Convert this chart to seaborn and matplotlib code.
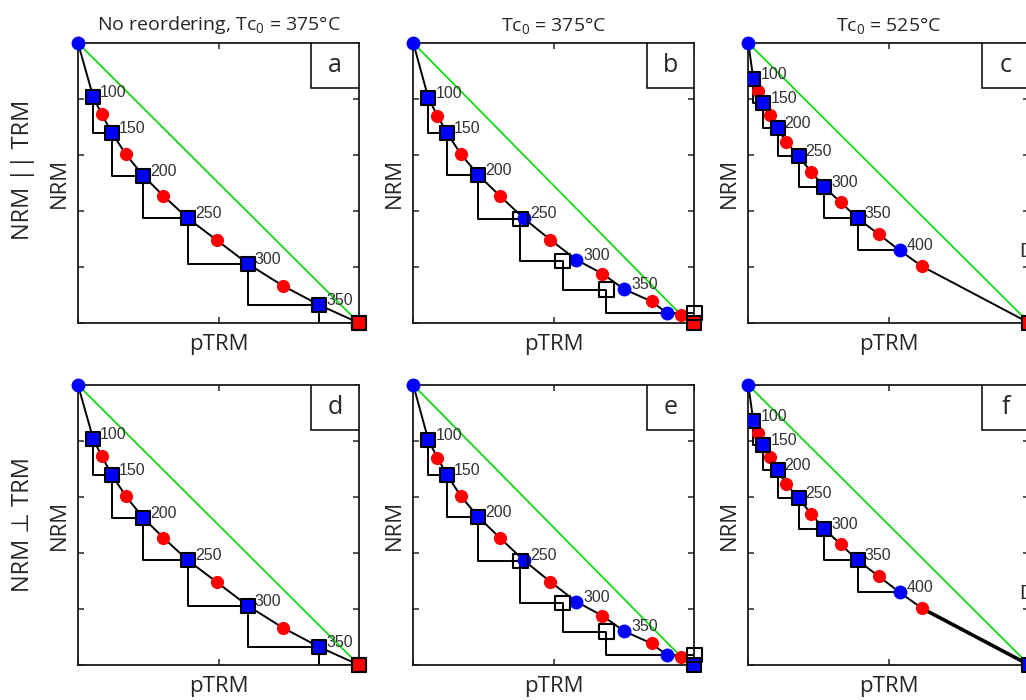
import numpy as np
import matplotlib
matplotlib.use("Agg")
import matplotlib.pyplot as plt
import seaborn as sns
from matplotlib.patches import Rectangle

# ---- data (axes run 0..1 in pTRM and NRM) ----
labels_375 = ["100", "150", "200", "250", "300", "350"]
labels_525 = ["100", "150", "200", "250", "300", "350", "400"]

# no reordering, Tc0 = 375 (panels a, d)
a_blue_x = [0.054, 0.122, 0.232, 0.391, 0.605, 0.859]
a_blue_y = [0.808, 0.677, 0.526, 0.374, 0.211, 0.064]
a_red_x = [0.084, 0.170, 0.304, 0.495, 0.729]
a_red_y = [0.746, 0.603, 0.454, 0.295, 0.133]
a_check_x = [0.054, 0.122, 0.232, 0.391, 0.605, 0.859, 1.0]
a_check_y = [0.808, 0.677, 0.526, 0.374, 0.211, 0.064, 0.0]
a_step_x = a_check_x
a_step_y = a_check_y
a_green_end = (1.0, 0.0)

# Tc0 = 375 (panels b, e)
b_blue_x = [0.054, 0.121, 0.232, 0.393, 0.580, 0.750, 0.902]
b_blue_y = [0.802, 0.677, 0.528, 0.374, 0.226, 0.121, 0.036]
b_red_x = [0.086, 0.170, 0.308, 0.488, 0.673, 0.848, 0.952]
b_red_y = [0.740, 0.602, 0.454, 0.297, 0.176, 0.077, 0.030]
b_check_x = [0.054, 0.121, 0.232, 0.381, 0.531, 0.687, 1.0]
b_check_y = [0.802, 0.677, 0.528, 0.372, 0.222, 0.119, 0.036]
b_step_x = b_check_x
b_step_y = b_check_y
b_green_end = (0.952, 0.030)

# Tc0 = 525 (panels c, f)
c_blue_x = [0.018, 0.054, 0.104, 0.179, 0.271, 0.389, 0.539]
c_blue_y = [0.871, 0.787, 0.695, 0.596, 0.485, 0.374, 0.259]
c_red_x = [0.036, 0.077, 0.135, 0.223, 0.329, 0.464, 0.619]
c_red_y = [0.829, 0.742, 0.647, 0.540, 0.431, 0.317, 0.202]
c_check_x = [0.018, 0.054, 0.104, 0.179, 0.271, 0.389]
c_check_y = [0.871, 0.787, 0.695, 0.596, 0.485, 0.374]
c_step_x = [0.018, 0.054, 0.104, 0.179, 0.271, 0.389, 0.539]
c_step_y = [0.871, 0.787, 0.695, 0.596, 0.485, 0.374, 0.259]
c_green_end = (1.0, 0.0)

titles = ["No reordering, Tc$_0$ = 375°C", "Tc$_0$ = 375°C", "Tc$_0$ = 525°C"]
letters = ["a", "b", "c", "d", "e", "f"]
end_colors = ["red", "red", "red", "red", "blue", "blue"]

sns.set_style("ticks")
plt.rcParams["font.family"] = ["Open Sans", "DejaVu Sans"]
plt.rcParams["mathtext.fontset"] = "custom"
plt.rcParams["mathtext.rm"] = "Open Sans"
plt.rcParams["mathtext.default"] = "regular"
plt.rcParams["xtick.direction"] = "in"
plt.rcParams["ytick.direction"] = "in"
plt.rcParams["axes.edgecolor"] = "#1a1a1a"
plt.rcParams["axes.linewidth"] = 1.3

BLUE = "#0000ff"
RED = "#ff0000"
GREEN = "#14d814"

fig = plt.figure(figsize=(10.26, 7.0), dpi=100)
lefts = [78 / 1026, 413.3 / 1026, 748.3 / 1026]
bottoms = [(700 - 323) / 700, (700 - 665) / 700]
w, h = 281 / 1026, 280 / 700

sets = [
    (a_blue_x, a_blue_y, a_red_x, a_red_y, a_check_x, a_check_y, a_step_x, a_step_y, a_green_end, labels_375),
    (b_blue_x, b_blue_y, b_red_x, b_red_y, b_check_x, b_check_y, b_step_x, b_step_y, b_green_end, labels_375),
    (c_blue_x, c_blue_y, c_red_x, c_red_y, c_check_x, c_check_y, c_step_x, c_step_y, c_green_end, labels_525),
]

for k in range(6):
    row, col = divmod(k, 3)
    bx, by, rx, ry, ckx, cky, sx, sy, gend, labs = sets[col]
    ax = fig.add_axes([lefts[col], bottoms[row], w, h])
    endc = BLUE if end_colors[k] == "blue" else RED

    # green reference line
    sns.lineplot(x=[0, gend[0]], y=[1, gend[1]], color=GREEN, lw=1.3, sort=False,
                 estimator=None, ax=ax, zorder=1)
    # pTRM check staircase
    sns.lineplot(x=sx, y=sy, color="black", lw=1.4, sort=False, estimator=None,
                 drawstyle="steps-pre", ax=ax, zorder=1.5)
    # main Arai path: origin, blue/red alternating, end
    mx, my = [0.0], [1.0]
    for i in range(len(bx)):
        mx.append(bx[i]); my.append(by[i])
        if i < len(rx):
            mx.append(rx[i]); my.append(ry[i])
    mx.append(1.0); my.append(0.0)
    sns.lineplot(x=mx, y=my, color="black", lw=1.4, sort=False, estimator=None,
                 ax=ax, zorder=2)
    if col == 2 and row == 1:
        sns.lineplot(x=mx[-2:], y=my[-2:], color="black", lw=2.6, sort=False,
                     estimator=None, ax=ax, zorder=2)

    sns.scatterplot(x=[0.0], y=[1.0], color=BLUE, s=100, linewidth=0, ax=ax,
                    zorder=3, clip_on=False)
    sns.scatterplot(x=bx, y=by, color=BLUE, s=100, linewidth=0, ax=ax, zorder=3)
    sns.scatterplot(x=rx, y=ry, color=RED, s=90, linewidth=0, ax=ax, zorder=3)

    # end point
    sns.scatterplot(x=[1.0], y=[0.0], marker="s", color=endc, s=105, edgecolor="black",
                    linewidth=1.5, ax=ax, zorder=4, clip_on=False)

    # check squares: filled blue where on top of a zero-field point
    fx, fy, ox, oy = [], [], [], []
    for x, y in zip(ckx, cky):
        d = np.min(np.hypot(np.array(bx) - x, np.array(by) - y))
        if d < 0.005:
            fx.append(x); fy.append(y)
        else:
            ox.append(x); oy.append(y)
    sns.scatterplot(x=fx, y=fy, marker="s", color=BLUE, s=105, edgecolor="black",
                    linewidth=1.5, ax=ax, zorder=4)
    if ox:
        ax.scatter(ox, oy, marker="s", s=110, facecolors="none", edgecolors="black",
                   linewidths=1.5, zorder=5, clip_on=False)

    for i, lab in enumerate(labs):
        ax.annotate(lab, (bx[i], by[i]), xytext=(5, 0), textcoords="offset points",
                    va="baseline", ha="left", fontsize=11.5, color="#333333",
                    family=["Liberation Sans"], zorder=6)

    # panel letter box
    ax.add_patch(Rectangle((0.83, 0.84), 0.17, 0.16, transform=ax.transAxes,
                           facecolor="white", edgecolor="black", lw=1.1, zorder=7))
    ax.text(0.915, 0.92, letters[k], transform=ax.transAxes, ha="center", va="center",
            fontsize=18, zorder=8)
    if col == 2:
        ax.text(0.963, 0.256, "D", transform=ax.transAxes, ha="left", va="center",
                fontsize=15, color="#333333", family=["Liberation Sans"], clip_on=False)

    ax.set_xlim(0, 1)
    ax.set_ylim(0, 1)
    ax.set_xticks([0, 0.5, 1])
    ax.set_yticks([0, 0.2, 0.4, 0.6, 0.8, 1])
    ax.tick_params(top=True, right=True, length=4, width=1.1, labelbottom=False,
                   labelleft=False)
    ax.set_xlabel("pTRM", fontsize=16, labelpad=8)
    ax.set_ylabel("NRM", fontsize=16, labelpad=6)
    if row == 0:
        ax.set_title(titles[col], fontsize=14, pad=9)

fig.text(23 / 1026, 1 - 170 / 700, "NRM || TRM", rotation=90, ha="center", va="center",
         fontsize=17)
fig.text(23 / 1026, 1 - 525 / 700, "NRM ⊥ TRM", rotation=90, ha="center", va="center",
         fontsize=17)

fig.savefig("out.png", dpi=100)
